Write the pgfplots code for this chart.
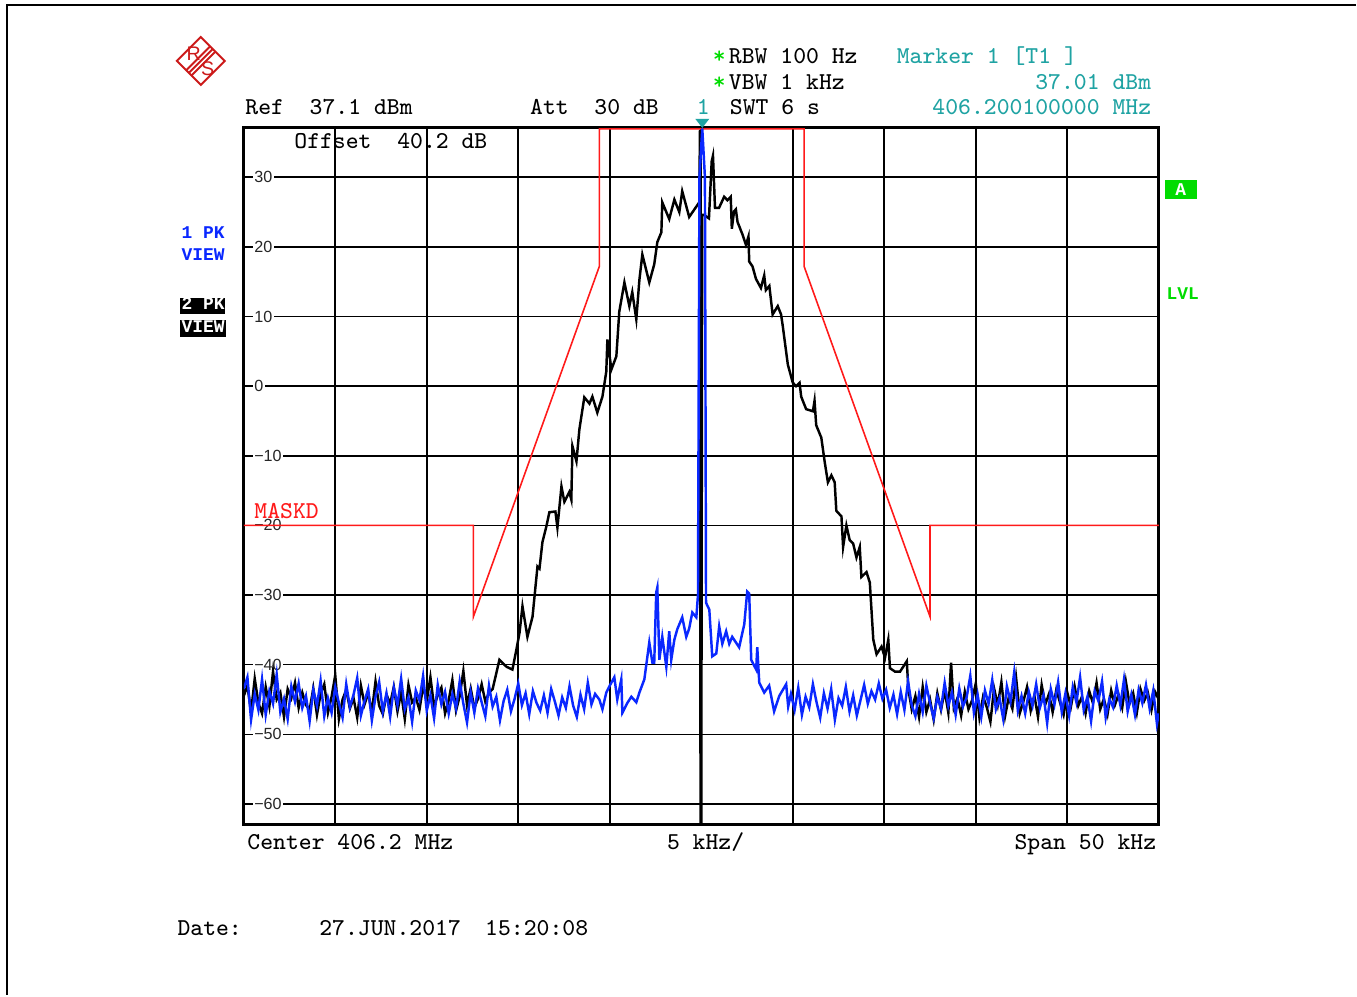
\documentclass[border=0pt]{standalone}
\usepackage{fontspec}
\usepackage{pgfplots}
\pgfplotsset{compat=1.18}
\newfontfamily\ticksf{Liberation Sans}
\newfontfamily\flagfont{Liberation Mono}
\definecolor{rsteal}{HTML}{1FA3A3}
\definecolor{rsgreen}{HTML}{00DC00}
\definecolor{rsblue}{HTML}{0A28FF}
\definecolor{rsred}{HTML}{FF1A1A}
\definecolor{logored}{HTML}{CC1A1A}
\newcommand{\hdr}{\ttfamily\frenchspacing\fontsize{6.9}{8}\selectfont}
\newcommand{\side}{\flagfont\bfseries\frenchspacing\fontsize{5.1}{6}\selectfont}
\pgfplotsset{layers/frontframe/.define layer set={axis background,axis grid,axis ticks,axis tick labels,main,axis lines,axis descriptions,axis foreground}{}}

% trace 2 (PK VIEW, black): modulated signal
\pgfplotstableread{
x y
-25.0 -44.5
-24.8 -43.0
-24.6 -46.8
-24.4 -42.0
-24.2 -45.5
-24.0 -47.0
-23.8 -43.2
-23.6 -46.0
-23.4 -41.0
-23.2 -45.0
-23.0 -44.0
-22.8 -47.5
-22.6 -43.5
-22.4 -44.8
-22.2 -42.6
-22.0 -46.2
-21.8 -44.0
-21.6 -45.8
-21.4 -46.5
-21.2 -43.4
-21.0 -47.2
-20.8 -44.2
-20.6 -42.8
-20.4 -46.9
-20.2 -44.6
-20.0 -41.5
-19.8 -47.8
-19.6 -45.0
-19.4 -43.6
-19.2 -46.3
-19.0 -44.8
-18.8 -47.6
-18.6 -43.0
-18.4 -45.7
-18.2 -44.1
-18.0 -46.8
-17.8 -42.4
-17.6 -45.9
-17.4 -47.1
-17.2 -44.3
-17.0 -45.6
-16.8 -43.2
-16.6 -46.7
-16.4 -44.0
-16.2 -47.8
-16.0 -42.9
-15.8 -45.4
-15.6 -44.7
-15.4 -46.5
-15.2 -43.1
-15.0 -45.2
-14.8 -41.8
-14.6 -46.0
-14.4 -44.4
-14.2 -43.3
-14.0 -47.0
-13.8 -45.1
-13.6 -42.2
-13.4 -46.6
-13.2 -44.5
-13.0 -40.9
-12.8 -45.8
-12.6 -43.4
-12.4 -46.2
-12.2 -44.9
-12.0 -42.8
-11.8 -45.3
-11.6 -44.0
-11.4 -43.5
-11.03 -39.3
-10.64 -40.3
-10.32 -40.7
-10.10 -37.8
-9.93 -35.4
-9.77 -31.6
-9.50 -36.0
-9.22 -33.1
-8.95 -25.9
-8.84 -26.2
-8.68 -22.4
-8.46 -20.1
-8.30 -18.1
-7.97 -18.0
-7.86 -20.3
-7.64 -14.4
-7.48 -16.6
-7.21 -15.2
-7.10 -16.3
-7.04 -8.6
-6.82 -10.8
-6.66 -6.2
-6.39 -1.6
-6.11 -2.5
-5.95 -1.5
-5.68 -3.8
-5.40 -1.5
-5.19 2.1
-5.13 6.7
-4.91 2.4
-4.64 4.3
-4.48 10.7
-4.20 14.9
-3.93 11.5
-3.77 13.5
-3.55 9.6
-3.38 15.3
-3.22 18.9
-2.84 14.9
-2.57 17.5
-2.40 20.7
-2.18 22.1
-2.13 26.4
-1.75 24.0
-1.47 26.8
-1.20 25.0
-1.04 28.0
-0.66 24.3
-0.11 26.4
-0.07 36.8
-0.04 -63.5
0.00 -63.5
0.05 24.6
0.147 24.6
0.42 24.1
0.57 32.3
0.64 33.1
0.75 25.6
0.97 25.6
1.25 27.2
1.43 26.7
1.61 27.2
1.67 22.6
1.79 25.1
1.89 25.4
1.98 23.6
2.25 21.8
2.44 20.3
2.58 21.5
2.62 17.9
2.80 17.2
2.99 15.4
3.26 14.1
3.44 15.9
3.53 13.8
3.72 14.4
3.90 10.3
4.18 11.5
4.36 10.3
4.45 8.7
4.73 3.1
5.00 0.5
5.18 0.0
5.37 0.5
5.46 -1.5
5.73 -3.3
6.10 -3.6
6.19 -2.1
6.28 -5.6
6.56 -7.4
6.74 -10.8
6.92 -13.8
7.11 -12.8
7.29 -13.8
7.38 -17.9
7.66 -18.7
7.75 -23.1
7.93 -20.0
8.11 -22.1
8.30 -22.6
8.48 -24.6
8.66 -23.1
8.75 -27.4
9.03 -26.7
9.21 -28.2
9.40 -36.4
9.58 -38.5
9.85 -37.4
10.04 -39.0
10.22 -36.4
10.31 -40.5
10.59 -41.0
10.86 -41.0
11.23 -39.5
11.32 -43.6
11.5 -46.4
11.7 -44.5
11.9 -47.5
12.1 -43.2
12.3 -46.8
12.5 -45.0
12.7 -47.9
12.9 -44.1
13.1 -46.5
13.3 -43.7
13.5 -46.9
13.65 -39.7
13.8 -46.2
14.0 -44.8
14.2 -47.3
14.4 -43.9
14.6 -46.4
14.8 -45.1
15.0 -42.7
15.2 -47.6
15.4 -44.6
15.6 -46.1
15.8 -48.2
16.0 -43.4
16.2 -45.8
16.4 -42.5
16.6 -47.4
16.8 -44.7
17.0 -46.3
17.2 -41.8
17.4 -47.0
17.6 -45.3
17.8 -43.2
18.0 -46.6
18.2 -44.4
18.4 -47.5
18.6 -42.9
18.8 -45.7
19.0 -44.2
19.2 -46.8
19.4 -43.6
19.6 -45.4
19.8 -47.2
20.0 -44.0
20.2 -46.0
20.4 -43.1
20.6 -45.9
20.8 -44.6
21.0 -47.0
21.2 -43.8
21.4 -45.5
21.6 -42.6
21.8 -46.4
22.0 -44.9
22.2 -47.1
22.4 -43.7
22.6 -45.8
22.8 -44.3
23.0 -46.2
23.2 -42.4
23.4 -45.6
23.6 -44.1
23.8 -46.9
24.0 -43.5
24.2 -45.2
24.4 -44.0
24.6 -46.5
24.8 -43.9
25.0 -45.0
}\tracetwo

% trace 1 (PK VIEW, blue): carrier
\pgfplotstableread{
x y
-25.0 -43.5
-24.8 -41.8
-24.6 -47.9
-24.4 -44.2
-24.2 -46.5
-24.0 -42.1
-23.8 -47.2
-23.6 -43.8
-23.4 -45.6
-23.2 -41.4
-23.0 -46.8
-22.8 -44.9
-22.6 -47.8
-22.4 -43.1
-22.2 -45.3
-22.0 -42.7
-21.8 -46.2
-21.6 -44.5
-21.4 -48.1
-21.2 -43.6
-21.0 -45.9
-20.8 -42.3
-20.6 -47.4
-20.4 -44.8
-20.2 -46.9
-20.0 -43.2
-19.8 -45.5
-19.6 -47.6
-19.4 -42.8
-19.2 -46.1
-19.0 -44.3
-18.8 -41.9
-18.6 -47.3
-18.4 -45.2
-18.2 -43.5
-18.0 -48.0
-17.8 -44.6
-17.6 -42.5
-17.4 -46.7
-17.2 -44.1
-17.0 -47.5
-16.8 -43.3
-16.6 -45.8
-16.4 -42.0
-16.2 -46.4
-16.0 -44.7
-15.8 -48.2
-15.6 -43.7
-15.4 -45.1
-15.2 -41.6
-15.0 -46.6
-14.8 -44.4
-14.6 -47.7
-14.4 -42.9
-14.2 -45.7
-14.0 -43.9
-13.8 -47.0
-13.6 -44.2
-13.4 -46.3
-13.2 -42.4
-13.0 -45.6
-12.8 -48.3
-12.6 -44.0
-12.4 -46.9
-12.2 -43.4
-12.0 -45.4
-11.8 -47.4
-11.6 -43.0
-11.4 -46.0
-11.2 -44.6
-11.0 -48.0
-10.8 -45.2
-10.6 -43.6
-10.4 -46.7
-10.2 -44.9
-10.0 -42.7
-9.8 -45.8
-9.6 -44.1
-9.4 -47.1
-9.2 -43.8
-9.0 -45.5
-8.8 -46.6
-8.6 -44.4
-8.4 -46.9
-8.2 -43.5
-8.0 -45.3
-7.8 -47.3
-7.6 -44.7
-7.4 -46.2
-7.2 -43.1
-7.0 -45.9
-6.8 -47.5
-6.6 -44.3
-6.4 -46.4
-6.2 -42.6
-6.0 -45.7
-5.8 -44.2
-5.57 -45.0
-5.40 -46.4
-5.19 -44.0
-5.02 -43.1
-4.75 -41.8
-4.59 -45.0
-4.37 -42.1
-4.31 -46.9
-4.04 -45.5
-3.82 -44.6
-3.55 -45.4
-3.38 -44.0
-3.11 -42.1
-2.84 -36.8
-2.67 -39.7
-2.57 -39.7
-2.46 -29.6
-2.40 -28.9
-2.29 -39.3
-2.13 -36.0
-1.91 -40.3
-1.75 -35.2
-1.64 -39.3
-1.47 -36.4
-1.31 -34.9
-1.04 -33.2
-0.82 -36.0
-0.66 -34.8
-0.49 -32.5
-0.27 -33.2
-0.18 -30.0
-0.10 30.0
0.055 37.01
0.20 30.0
0.26 -31.1
0.44 -32.1
0.60 -38.8
0.82 -38.4
0.98 -34.5
1.15 -37.0
1.36 -35.2
1.53 -37.0
1.69 -36.0
2.07 -37.5
2.35 -34.2
2.51 -29.5
2.62 -29.8
2.73 -39.3
3.00 -40.7
3.06 -37.5
3.17 -42.6
3.44 -44.0
3.71 -43.0
3.98 -46.7
4.26 -44.5
4.64 -42.8
4.75 -46.0
4.9 -44.2
5.1 -46.5
5.3 -43.3
5.5 -47.2
5.7 -44.6
5.9 -46.1
6.1 -42.8
6.3 -45.4
6.5 -47.6
6.7 -44.1
6.9 -46.3
7.1 -43.5
7.3 -47.9
7.5 -44.8
7.7 -45.9
7.9 -43.2
8.1 -46.7
8.3 -44.4
8.5 -47.3
8.7 -45.1
8.9 -42.9
9.1 -45.6
9.3 -43.8
9.5 -45.0
9.7 -42.7
9.9 -44.9
10.1 -43.6
10.3 -46.2
10.5 -44.3
10.7 -47.1
10.9 -43.9
11.1 -46.5
11.3 -42.4
11.5 -45.8
11.7 -47.4
11.9 -44.2
12.1 -46.8
12.3 -43.0
12.5 -45.5
12.7 -47.7
12.9 -44.6
13.1 -46.3
13.3 -42.6
13.5 -45.9
13.7 -44.0
13.9 -47.2
14.1 -43.4
14.3 -46.0
14.5 -44.7
14.7 -41.6
14.9 -46.9
15.1 -44.3
15.3 -47.5
15.5 -43.7
15.7 -45.6
15.9 -42.2
16.1 -46.4
16.3 -44.8
16.5 -47.8
16.7 -43.1
16.9 -45.3
17.1 -41.1
17.3 -46.6
17.5 -44.5
17.7 -47.0
17.9 -43.9
18.1 -45.9
18.3 -42.8
18.5 -46.2
18.7 -44.4
18.9 -48.4
19.1 -43.5
19.3 -45.7
19.5 -42.5
19.7 -46.8
19.9 -44.1
20.1 -47.3
20.3 -43.2
20.5 -45.4
20.7 -41.8
20.9 -46.5
21.1 -44.6
21.3 -48.1
21.5 -43.8
21.7 -45.2
21.9 -42.4
22.1 -47.6
22.3 -44.9
22.5 -46.1
22.7 -43.0
22.9 -45.8
23.1 -42.1
23.3 -46.7
23.5 -44.3
23.7 -47.2
23.9 -43.6
24.1 -45.5
24.3 -42.9
24.5 -46.3
24.7 -43.7
24.9 -48.5
25.0 -47.0
}\traceone

\begin{document}
\begin{tikzpicture}[x=0.1mm, y=0.1mm]
\fill[white] (0,0) rectangle (1357,996);
% page edge
\draw[line width=0.8pt] (7,0) -- (7,991) -- (1357,991);

% R&S logo
\begin{scope}[logored, line width=0.55pt]
  \draw (201,959) -- (225,935) -- (201,911) -- (177,935) -- cycle;
  \foreach \o in {-2.6,0,2.6}
    \draw (189+\o,923-\o) -- (213+\o,947-\o);
  \node[font=\ticksf\fontsize{5.6}{6}\selectfont, inner sep=0] at (194,942) {R};
  \node[font=\ticksf\fontsize{5.6}{6}\selectfont, inner sep=0] at (208,927) {S};
\end{scope}

% header
\node[anchor=base west, inner sep=0, font=\hdr] at (245,881.5) {Ref~~37.1~dBm};
\node[anchor=base west, inner sep=0, font=\hdr] at (530,881.5) {Att~~30~dB};
\node[anchor=base west, inner sep=0, font=\hdr, text=rsteal] at (697,881.5) {1};
\node[anchor=base west, inner sep=0, font=\hdr] at (730,881.5) {SWT~6~s};
\node[anchor=base west, inner sep=0, font=\hdr, text=rsgreen] at (713,932.5) {*};
\node[anchor=base west, inner sep=0, font=\hdr, text=rsgreen] at (713,906.7) {*};
\node[anchor=base west, inner sep=0, font=\hdr] at (729,932.5) {RBW~100~Hz};
\node[anchor=base west, inner sep=0, font=\hdr] at (729,906.7) {VBW~1~kHz};
\node[anchor=base west, inner sep=0, font=\hdr, text=rsteal] at (897,932.5) {Marker~1~[T1~]};
\node[anchor=base east, inner sep=0, font=\hdr, text=rsteal] at (1153,906.7) {37.01~dBm};
\node[anchor=base east, inner sep=0, font=\hdr, text=rsteal] at (1153,881.5) {406.200100000~MHz};
\node[anchor=base west, inner sep=0, font=\hdr] at (294,847) {Offset~~40.2~dB};

% trace flags at the left
\node[anchor=base west, inner sep=0, font=\side, text=rsblue] at (181,757) {1~PK};
\node[anchor=base west, inner sep=0, font=\side, text=rsblue] at (181,735) {VIEW};
\fill[black] (180,682) rectangle (225,698);
\fill[black] (180,659) rectangle (226,676);
\node[anchor=base west, inner sep=0, font=\side, text=white] at (181,686) {2~PK};
\node[anchor=base west, inner sep=0, font=\side, text=white] at (181,663) {VIEW};

% right side flags
\fill[rsgreen] (1166,797) rectangle (1198,816);
\node[inner sep=0, font=\side, text=white] at (1182,806.5) {A};
\node[anchor=base west, inner sep=0, font=\side, text=rsgreen] at (1167,696) {LVL};

\begin{axis}[
  at={(24.4mm,17.1mm)}, anchor=south west,
  scale only axis, width=91.6mm, height=69.7mm,
  xmin=-25, xmax=25, ymin=-62.9, ymax=37.1,
  xtick={-20,-15,...,20}, xticklabels={},
  ytick={-60,-50,...,30},
  yticklabels={−60,−50,−40,−30,−20,−10,0,10,20,30},
  major tick length=0pt,
  grid=major,
  grid style={black, line width=0.45pt},
  axis line style={black, line width=0.85pt},
  yticklabel style={font=\ticksf\fontsize{4.6}{5}\selectfont, anchor=west,
    xshift=2.3pt, fill=white, inner sep=0.5pt, text=black!85},
  set layers=frontframe,
]
% limit line MASKD
\addplot[rsred, line width=0.45pt] coordinates {
  (-25,-20) (-12.45,-20) (-12.45,-33.1) (-5.57,17.2) (-5.57,36.95)
  (5.62,36.95) (5.62,17.2) (12.5,-33.1) (12.5,-20) (25,-20)};
\addplot[black, line width=0.7pt] table {\tracetwo};
\addplot[rsblue, line width=0.7pt] table {\traceone};
\end{axis}

\node[anchor=base west, inner sep=0, font=\hdr, text=rsred] at (254,477) {MASKD};
% marker 1 symbol
\fill[rsteal] (696,877) -- (710,877) -- (703,868) -- cycle;

% footer
\node[anchor=base west, inner sep=0, font=\hdr] at (247,146) {Center~406.2~MHz};
\node[anchor=base west, inner sep=0, font=\hdr] at (667,146) {5~kHz/};
\node[anchor=base east, inner sep=0, font=\hdr] at (1158,146) {Span~50~kHz};
\node[anchor=base west, inner sep=0, font=\hdr] at (177,60) {Date:};
\node[anchor=base west, inner sep=0, font=\hdr] at (319,60) {27.JUN.2017};
\node[anchor=base west, inner sep=0, font=\hdr] at (485,60) {15:20:08};
\end{tikzpicture}
\end{document}
